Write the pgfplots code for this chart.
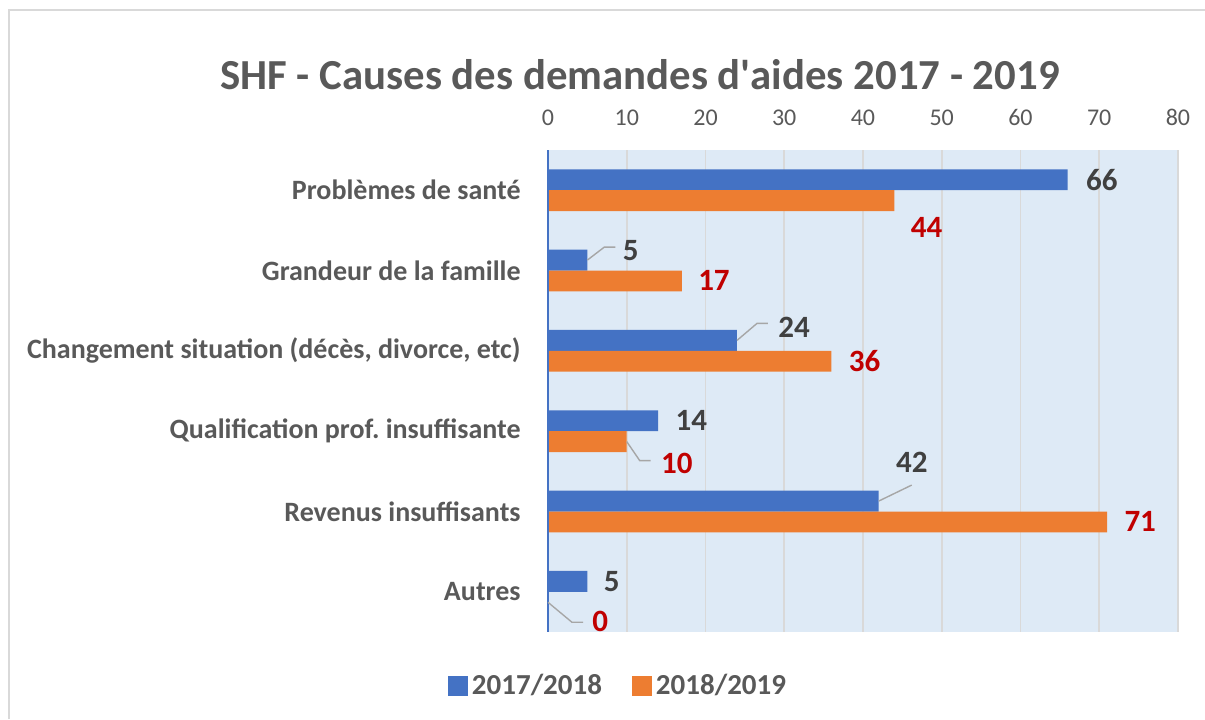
\documentclass[border=0pt]{standalone}
\usepackage{fontspec}
\setmainfont{Carlito}
\usepackage{pgfplots}
\usepackage{pgfplotstable}
\pgfplotsset{compat=1.18}
\frenchspacing
\definecolor{cblue}{HTML}{4472C4}
\definecolor{corange}{HTML}{ED7D31}
\definecolor{bgblue}{HTML}{DEEAF6}
\definecolor{gridgray}{HTML}{D9D9D9}
\definecolor{framegray}{HTML}{D9D9D9}
\definecolor{tgray}{HTML}{595959}
\definecolor{lgray}{HTML}{404040}
\definecolor{lred}{HTML}{C00000}
\definecolor{leader}{HTML}{A6A6A6}

% dx, dy: label offset (pt) from the bar end at the category centre
\pgfplotstableread{
y x dx dy
0 66 9 5.2
1 5 17.5 10.2
2 24 20.5 11.7
3 14 8.5 5.2
4 42 8.5 24.5
5 5 8 5.2
}\bluedata

\pgfplotstableread{
y x dx dy
0 44 8 -18.7
1 17 8 -5.2
2 36 8.5 -5.2
3 10 17 -16
4 71 8.5 -5.2
5 0 22 -15
}\orangedata

\begin{document}
\begin{tikzpicture}
\path[use as bounding box] (0,0) rectangle (602.5pt,359.5pt);
\draw[framegray,line width=1pt] (4.25pt,0) -- (4.25pt,354.25pt) -- (602.5pt,354.25pt);
\node[font=\bfseries\fontsize{21.4}{24}\selectfont, text=tgray] at (320pt,322pt) {SHF - Causes des demandes d\textquotesingle aides 2017 - 2019};
\begin{axis}[
  at={(274pt,43.5pt)}, anchor=south west,
  scale only axis, width=315pt, height=241pt,
  xmin=0, xmax=80, ymin=-0.5, ymax=5.5,
  y dir=reverse,
  clip=false,
  bar width=0.26,
  axis line style={draw=none},
  major tick length=0pt,
  xtick={0,10,...,80},
  xticklabel pos=upper,
  xmajorgrids,
  grid style={gridgray, line width=0.8pt},
  axis background/.style={fill=bgblue},
  /pgf/number format/assume math mode=true,
  xticklabel style={anchor=south, inner sep=0pt, yshift=12pt, text=tgray, font=\fontsize{12}{14}\selectfont},
  ytick={0,1,2,3,4,5},
  yticklabels={Problèmes de santé, Grandeur de la famille, {Changement situation (décès, divorce, etc)}, Qualification prof. insuffisante, Revenus insuffisants, Autres},
  yticklabel style={anchor=east, inner sep=0pt, xshift=-13.5pt, text=tgray, font=\bfseries\fontsize{14}{16}\selectfont},
  legend columns=2,
  legend style={draw=none, fill=none, at={(0.1127,-0.112)}, anchor=center,
    font=\bfseries\fontsize{14.5}{17}\selectfont, text=tgray,
    /tikz/every even column/.append style={column sep=13pt}},
  legend image code/.code={\fill[#1] (0pt,-5pt) rectangle (10pt,5pt);},
]
\addplot[xbar, bar shift=-0.13, fill=cblue, draw=none, point meta=x,
  nodes near coords,
  visualization depends on={\thisrow{dx}\as\dx},
  visualization depends on={\thisrow{dy}\as\dy},
  nodes near coords style={anchor=west, inner sep=0pt, xshift=\dx pt, yshift=\dy pt, text=lgray, font=\bfseries\fontsize{15.5}{18}\selectfont}
] table[x=x,y=y]{\bluedata};
\addplot[xbar, bar shift=0.13, fill=corange, draw=none, point meta=x,
  nodes near coords,
  visualization depends on={\thisrow{dx}\as\dx},
  visualization depends on={\thisrow{dy}\as\dy},
  nodes near coords style={anchor=west, inner sep=0pt, xshift=\dx pt, yshift=\dy pt, text=lred, font=\bfseries\fontsize{15.5}{18}\selectfont}
] table[x=x,y=y]{\orangedata};
\legend{2017/2018, 2018/2019}
\draw[cblue, line width=0.8pt] (axis cs:0,-0.5) -- (axis cs:0,5.5);
\draw[leader, line width=0.7pt] (axis cs:5,0.87) -- ++(8.5pt,6.5pt) -- ++(5.5pt,0pt);
\draw[leader, line width=0.7pt] (axis cs:24,1.87) -- ++(10pt,8.5pt) -- ++(5.5pt,0pt);
\draw[leader, line width=0.7pt] (axis cs:10,3.13) -- ++(6.5pt,-9.5pt) -- ++(5.5pt,0pt);
\draw[leader, line width=0.7pt] (axis cs:42,3.87) -- ++(16.5pt,8pt);
\draw[leader, line width=0.7pt] (axis cs:0,5.13) -- ++(12pt,-10pt) -- ++(5.5pt,0pt);
\end{axis}
\end{tikzpicture}
\end{document}
